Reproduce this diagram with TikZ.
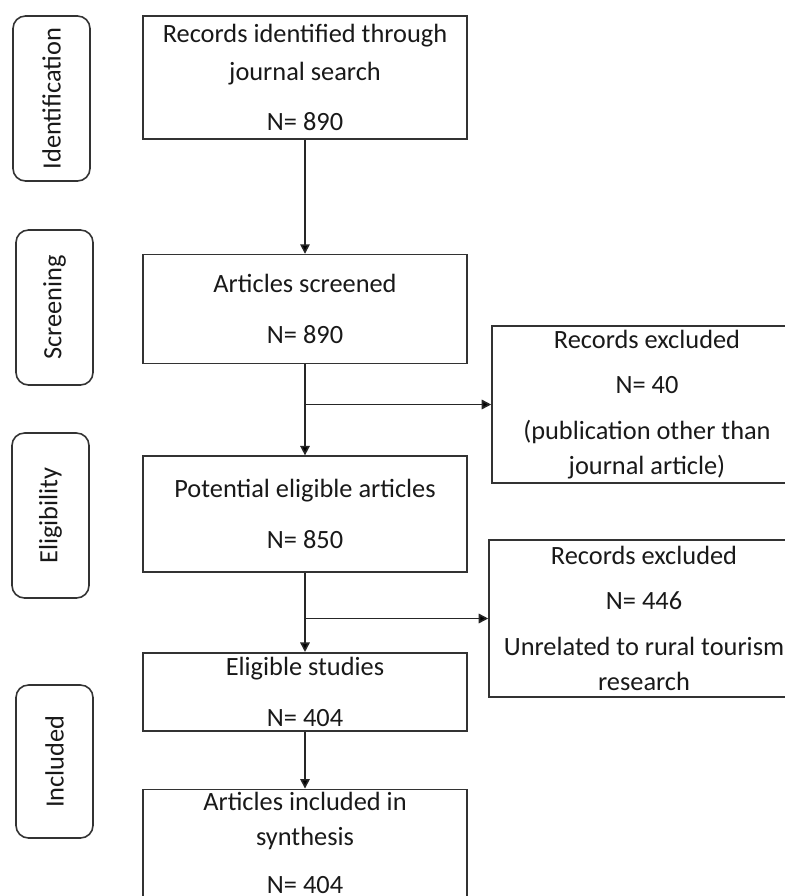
\documentclass[tikz,border=0pt]{standalone}
\usepackage{fontspec}
\setmainfont{Carlito}
\usetikzlibrary{positioning,arrows.meta}
\tikzset{
    box/.style={draw=black!80, line width=0.9pt, minimum width=6.48cm, inner sep=0mm, align=center, text=black!90, font=\fontsize{15}{20}\selectfont},
    exbox/.style={box, minimum width=6.2cm, minimum height=3.14cm},
    stage/.style={draw=black!80, line width=0.9pt, rounded corners=2.5mm, rotate=90, minimum height=1.54cm, inner sep=0mm, text=black!90, font=\fontsize{15}{18}\selectfont},
    flow/.style={-{Triangle[length=1.9mm,width=1.9mm]}},
    node distance=1.5
}

\begin{document}
\begin{tikzpicture}
			\useasboundingbox[fill=white] (0,0) rectangle (15.7,-17.92);
			% stages
			\node[stage, minimum width=3.3cm] (id) at (1.03,-1.97) {Identification};
			\node[stage, minimum width=3.1cm] (scr) at (1.09,-6.15) {Screening};
			\node[stage, minimum width=3.3cm] (elig) at (1.01,-10.31) {Eligibility};
			\node[stage, minimum width=3.06cm] (inc) at (1.09,-15.23) {Included};

			% main flow
			\node[box, minimum height=2.46cm] (b1) at (6.1,-1.55) {Records identified through\\[2pt]journal search\\[8.5pt]N= 890};
			\node[box, minimum height=2.18cm, below=2.28cm of b1] (b2) {Articles screened\\[9pt]N= 890};
			\node[box, minimum height=2.32cm, below=1.82cm of b2] (b3) {Potential eligible articles\\[9pt]N= 850};
			\node[box, minimum height=1.56cm, below=1.58cm of b3] (b4) {Eligible studies\\[9pt]N= 404};
			\node[box, minimum height=2.14cm, below=1.14cm of b4] (b5) {Articles included in\\synthesis\\[7pt]N= 404};

			% excluded
			\node[exbox] (ex1) at (12.94,-8.09) {Records excluded\\[6pt]N= 40\\[6pt](publication other than\\journal article)};
			\node[exbox] (ex2) at (12.88,-12.37) {Records excluded\\[6pt]N= 446\\[6pt]Unrelated to rural tourism\\research};

			\coordinate (j1) at (b2.south |- ex1.west);
			\coordinate (j2) at (b3.south |- ex2.west);

			\draw[draw=black!85, line width=0.9pt]
			(b1) edge[flow] (b2)
			(b2) edge[flow] (b3)
			(b3) edge[flow] (b4)
			(b4) edge[flow] (b5)
			(j1) edge[flow] (ex1)
			(j2) edge[flow] (ex2);
		\end{tikzpicture}
\end{document}
